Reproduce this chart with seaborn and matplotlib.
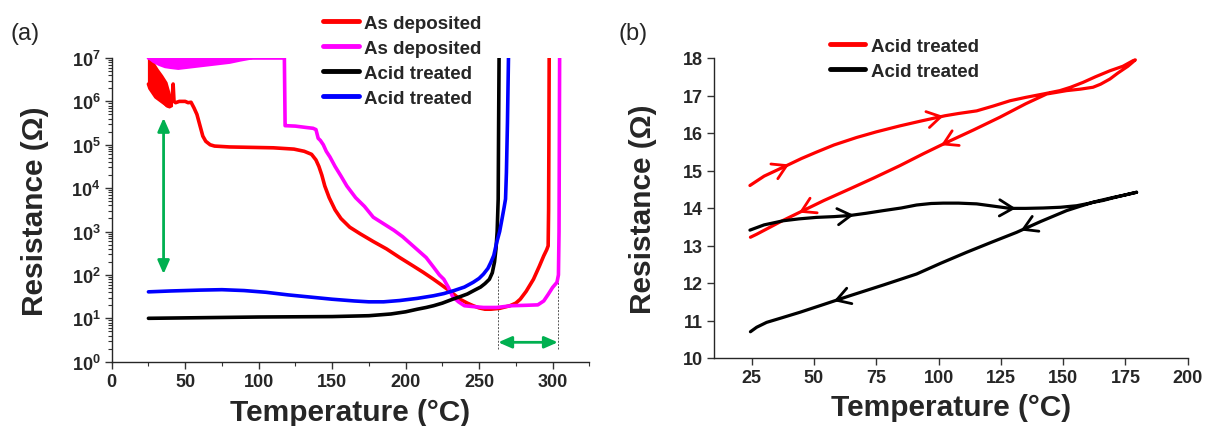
import numpy as np
import matplotlib
matplotlib.use("Agg")
import matplotlib.pyplot as plt
from matplotlib.ticker import FixedLocator, FuncFormatter, LogLocator, NullFormatter, MultipleLocator
import seaborn as sns

# ---------------- (a) Resistance vs temperature (log scale) ----------------
# temperatures in °C, resistances stored as log10(R / Ω)
red_T = [25, 26, 28, 30, 32, 34, 36, 38, 40, 41.2, 41.8, 42.4, 43.5, 46, 50, 52, 54, 56, 58,
         60, 62, 64, 67, 70, 80, 95, 110, 124, 131, 136, 139, 141, 143, 145, 148, 152, 156,
         162, 169, 178, 187, 196, 205, 212, 219, 224, 228, 233, 237, 242, 246, 250, 254, 258,
         264, 271, 275, 278, 282, 287, 291, 294, 296, 297, 297.3, 297.5, 297.7]
red_logR = [6.4, 6.3, 6.2, 6.1, 6.05, 6.0, 5.95, 5.9, 5.92, 6.1, 6.4, 6.0, 5.97, 6.0, 6.0, 5.97,
            5.98, 5.85, 5.7, 5.45, 5.2, 5.08, 5.0, 4.97, 4.95, 4.94, 4.93, 4.90, 4.85, 4.78,
            4.65, 4.5, 4.3, 4.05, 3.78, 3.5, 3.3, 3.1, 2.95, 2.77, 2.6, 2.4, 2.21, 2.06, 1.9,
            1.78, 1.68, 1.55, 1.44, 1.35, 1.29, 1.24, 1.21, 1.21, 1.23, 1.29, 1.35, 1.44, 1.62,
            1.9, 2.2, 2.44, 2.58, 2.67, 3.5, 5.0, 7.0]
# scatter envelope of the noisy onset of the red trace
red_band_T = [25, 28, 31, 34, 37, 39, 40.7]
red_band_lo = [6.4, 6.21, 6.1, 6.01, 5.9, 5.87, 5.9]
red_band_hi = [7.0, 6.9, 6.74, 6.6, 6.44, 6.2, 6.01]

mag_T = [25, 60, 100, 117.5, 118, 118.5, 125, 132, 137, 139, 140.5, 142, 144, 146, 148.5, 152,
         156, 160, 166, 172, 178, 185, 192, 198, 204, 209, 214, 219, 223, 226, 229, 232, 236,
         240, 246, 253, 262, 272, 282, 290, 294, 297, 300, 303, 304, 304.4, 304.6, 304.8]
mag_logR = [7, 7, 7, 7, 5.44, 5.44, 5.43, 5.40, 5.38, 5.35, 5.15, 5.1, 5.0, 4.85, 4.72, 4.5,
            4.28, 4.05, 3.78, 3.58, 3.33, 3.18, 3.03, 2.88, 2.70, 2.55, 2.4, 2.18, 2.0, 1.9,
            1.72, 1.5, 1.38, 1.29, 1.27, 1.25, 1.25, 1.29, 1.30, 1.31, 1.4, 1.55, 1.71, 1.83,
            2.0, 3.0, 5.0, 7.0]
mag_band_T = [25, 28, 32, 36, 40, 45, 50, 60, 70, 80, 87, 95]
mag_band_lo = [7.0, 6.92, 6.85, 6.8, 6.78, 6.76, 6.78, 6.82, 6.86, 6.9, 6.95, 7.0]
mag_band_hi = [7.0] * len(mag_band_T)

blk_T = [25, 50, 100, 150, 175, 190, 200, 208, 214, 219, 225, 232, 238, 242, 247, 251, 254,
         257, 259, 260.5, 261.5, 262.3, 263, 263.3, 263.6]
blk_logR = [1.0, 1.01, 1.03, 1.04, 1.06, 1.1, 1.15, 1.21, 1.25, 1.29, 1.35, 1.44, 1.51, 1.56,
            1.65, 1.72, 1.8, 1.9, 2.05, 2.3, 2.6, 3.0, 3.75, 5.5, 7.0]

blu_T = [25, 40, 60, 75, 90, 105, 120, 135, 150, 165, 175, 185, 196, 208, 219, 226, 233, 240,
         246, 250, 253, 256, 258, 260, 262, 264, 265.6, 267, 268, 268.6, 269.3, 270]
blu_logR = [1.61, 1.63, 1.65, 1.66, 1.64, 1.6, 1.54, 1.49, 1.44, 1.40, 1.38, 1.38, 1.41, 1.46,
            1.52, 1.57, 1.64, 1.72, 1.83, 1.92, 2.02, 2.15, 2.29, 2.45, 2.75, 3.0, 3.29, 3.55,
            3.75, 4.36, 5.5, 7.0]

labels_a = ["As deposited", "As deposited", "Acid treated", "Acid treated"]
colors_a = ["#ff0000", "#ff00ff", "#000000", "#0000ff"]

# annotation markers in panel (a)
vert_arrow_T = 35.3
vert_arrow_logR = (2.02, 5.62)
window_T = (263, 303.6)
window_arrow_logR = 0.447
window_top_logR = (1.98, 4.66)

# ---------------- (b) heating / cooling cycles ----------------
bred_heat_T = [24.3, 30, 39, 45, 51, 58, 67.1, 75, 84.5, 93, 102.6, 108, 115.3, 122, 128.7, 135,
               142, 148.7, 153, 158, 163, 168.8, 174, 178.1, 179]
bred_heat_R = [14.6, 14.85, 15.13, 15.32, 15.49, 15.68, 15.88, 16.03, 16.19, 16.32, 16.46,
               16.52, 16.59, 16.72, 16.86, 16.95, 17.04, 17.13, 17.22, 17.35, 17.5, 17.66,
               17.78, 17.93, 17.95]
bred_cool_T = [179, 176, 172, 168.8, 165, 162, 157, 151.4, 147, 143.4, 135, 124.6, 114, 103.3,
               94, 84.5, 74, 64.4, 54, 44.4, 37, 31, 27, 24.5]
bred_cool_R = [17.95, 17.78, 17.6, 17.44, 17.3, 17.22, 17.17, 17.13, 17.08, 17.04, 16.78,
               16.42, 16.08, 15.75, 15.45, 15.13, 14.8, 14.51, 14.2, 13.89, 13.65, 13.44,
               13.3, 13.22]
bblk_heat_T = [24.3, 30, 37.7, 44, 51, 58, 64.4, 71, 77.8, 85, 91.2, 97, 101.9, 108, 115.3,
               122, 128.7, 135, 142, 149, 155.4, 160, 164.8, 170, 175, 179.5]
bblk_heat_R = [13.41, 13.55, 13.66, 13.71, 13.75, 13.77, 13.8, 13.86, 13.93, 14.0, 14.08,
               14.12, 14.13, 14.13, 14.11, 14.05, 13.99, 13.99, 14.0, 14.02, 14.06, 14.12,
               14.2, 14.28, 14.35, 14.42]
bblk_cool_T = [179.5, 175, 170, 166, 162, 157, 151.4, 141, 131.3, 121, 111.3, 101, 91.2, 78,
               64.4, 54, 44.4, 37, 31, 27, 24.5]
bblk_cool_R = [14.42, 14.35, 14.27, 14.2, 14.15, 14.05, 13.93, 13.64, 13.35, 13.08, 12.82,
               12.53, 12.24, 11.95, 11.66, 11.43, 11.22, 11.07, 10.95, 10.82, 10.7]

labels_b = ["Acid treated", "Acid treated"]
colors_b = ["#ff0000", "#000000"]
# temperatures where direction arrows sit on each branch
bred_heat_arrows = [40, 102]
bred_cool_arrows = [101, 44]
bblk_heat_arrows = [66, 131]
bblk_cool_arrows = [133, 58]

# ---------------- styling ----------------
sns.set_style("ticks")
plt.rcParams["font.family"] = ["Liberation Sans", "DejaVu Sans"]
plt.rcParams["font.weight"] = "bold"
plt.rcParams["mathtext.fontset"] = "custom"
plt.rcParams["mathtext.rm"] = "Liberation Sans:bold"
plt.rcParams["mathtext.bf"] = "Liberation Sans:bold"
plt.rcParams["axes.linewidth"] = 1.0
plt.rcParams["xtick.major.width"] = 1.0
plt.rcParams["ytick.major.width"] = 1.0
plt.rcParams["xtick.minor.width"] = 0.8
plt.rcParams["ytick.minor.width"] = 0.8
plt.rcParams["xtick.labelsize"] = 13
plt.rcParams["ytick.labelsize"] = 13

fig = plt.figure(figsize=(12.06, 4.27), dpi=100)
W, H = 1206, 427
ax_a = fig.add_axes([111.7 / W, 1 - 362.7 / H, (589.3 - 111.7) / W, (362.7 - 59) / H])
ax_b = fig.add_axes([714.3 / W, 1 - 359 / H, (1187.7 - 714.3) / W, (359 - 59) / H])

label_font = dict(fontsize=21.5, fontweight="bold")
legend_font = dict(size=13.5, weight="bold")

# ----- panel (a) -----
ax_a.fill_between(red_band_T, [10 ** v for v in red_band_lo], [10 ** v for v in red_band_hi],
                  color=colors_a[0], lw=1.5, zorder=2)
ax_a.fill_between(mag_band_T, [10 ** v for v in mag_band_lo], [10 ** v for v in mag_band_hi],
                  color=colors_a[1], lw=1.5, zorder=2)
series_a = [(red_T, red_logR), (mag_T, mag_logR), (blk_T, blk_logR), (blu_T, blu_logR)]
for (tt, lr), c, lab in zip(series_a, colors_a, labels_a):
    sns.lineplot(x=tt, y=[10 ** v for v in lr], sort=False, estimator=None, color=c,
                 lw=2.6, label=lab, ax=ax_a, zorder=3)

ax_a.set_yscale("log")
ax_a.set_xlim(0, 325)
ax_a.set_ylim(1, 1e7)
ax_a.xaxis.set_major_locator(FixedLocator([0, 50, 100, 150, 200, 250, 300]))
ax_a.xaxis.set_minor_locator(MultipleLocator(25))
ax_a.yaxis.set_major_locator(FixedLocator([10 ** k for k in range(8)]))
ax_a.yaxis.set_major_formatter(FuncFormatter(lambda v, p: r"$\mathbf{10^{%d}}$" % round(np.log10(v))))
ax_a.yaxis.set_minor_locator(LogLocator(base=10, subs=np.arange(2, 10), numticks=20))
ax_a.yaxis.set_minor_formatter(NullFormatter())

green = "#00b050"
ax_a.annotate("", xy=(vert_arrow_T, 10 ** vert_arrow_logR[1]), xytext=(vert_arrow_T, 10 ** vert_arrow_logR[0]),
              arrowprops=dict(arrowstyle="<|-|>,head_length=0.8,head_width=0.35", color=green, lw=2,
                              shrinkA=0, shrinkB=0))
ax_a.annotate("", xy=(window_T[1], 10 ** window_arrow_logR), xytext=(window_T[0], 10 ** window_arrow_logR),
              arrowprops=dict(arrowstyle="<|-|>,head_length=0.8,head_width=0.35", color=green, lw=2,
                              shrinkA=0, shrinkB=0))
for t, top in zip(window_T, window_top_logR):
    ax_a.plot([t, t], [10 ** 0.3, 10 ** top], ls=(0, (2, 1.5)), lw=0.7, color="#555555", zorder=1)

# ----- panel (b) -----
loops = [(bred_heat_T + bred_cool_T, bred_heat_R + bred_cool_R),
         (bblk_heat_T + bblk_cool_T, bblk_heat_R + bblk_cool_R)]
for (tt, rr), c, lab in zip(loops, colors_b, labels_b):
    sns.lineplot(x=tt, y=rr, sort=False, estimator=None, color=c, lw=2.3, label=lab, ax=ax_b)


def add_arrows(ax, T, R, where, color, heating):
    T = np.asarray(T, float)
    R = np.asarray(R, float)
    if not heating:
        T, R = T[::-1], R[::-1]
    for t0 in where:
        step = 3 if heating else -3
        tip = (t0, np.interp(t0, T, R))
        tail = (t0 - step, np.interp(t0 - step, T, R))
        ax.annotate("", xy=tip, xytext=tail,
                    arrowprops=dict(arrowstyle="->,head_length=0.75,head_width=0.45", color=color,
                                    lw=2.0, shrinkA=0, shrinkB=0, mutation_scale=13))


add_arrows(ax_b, bred_heat_T, bred_heat_R, bred_heat_arrows, colors_b[0], True)
add_arrows(ax_b, bred_cool_T, bred_cool_R, bred_cool_arrows, colors_b[0], False)
add_arrows(ax_b, bblk_heat_T, bblk_heat_R, bblk_heat_arrows, colors_b[1], True)
add_arrows(ax_b, bblk_cool_T, bblk_cool_R, bblk_cool_arrows, colors_b[1], False)

ax_b.set_xlim(10, 200)
ax_b.set_ylim(10, 18)
ax_b.xaxis.set_major_locator(FixedLocator([25, 50, 75, 100, 125, 150, 175, 200]))
ax_b.yaxis.set_major_locator(MultipleLocator(1))

# ----- shared cosmetics -----
for ax, ylx in ((ax_a, -0.16), (ax_b, -0.15)):
    sns.despine(ax=ax)
    ax.tick_params(which="major", direction="out", length=5, color="#333333", pad=3)
    ax.tick_params(which="minor", direction="out", length=3, color="#333333")
    ax.set_xlabel("Temperature (°C)", **label_font)
    ax.set_ylabel("Resistance (Ω)", **label_font)
    ax.xaxis.label.set_va("center")
    ax.yaxis.label.set_va("center")
    ax.xaxis.set_label_coords(0.5, -0.165)
    ax.yaxis.set_label_coords(ylx, 0.5)

for ax, anchor in ((ax_a, (0.268, 0.963)), (ax_b, (0.688, 0.909))):
    handles, labs = ax.get_legend_handles_labels()
    leg = ax.legend(handles, labs, loc="upper left", bbox_to_anchor=anchor,
                    bbox_transform=fig.transFigure, frameon=False, prop=legend_font,
                    handlelength=1.9, handletextpad=0.3, labelspacing=0.42,
                    borderpad=0, borderaxespad=0)
    for ln in leg.get_lines():
        ln.set_linewidth(3.5)

fig.text(10 / W, 1 - 34 / H, "(a)", fontsize=17, fontweight="normal", va="center", ha="left")
fig.text(618 / W, 1 - 34 / H, "(b)", fontsize=17, fontweight="normal", va="center", ha="left")

fig.savefig("out.png", dpi=100)
